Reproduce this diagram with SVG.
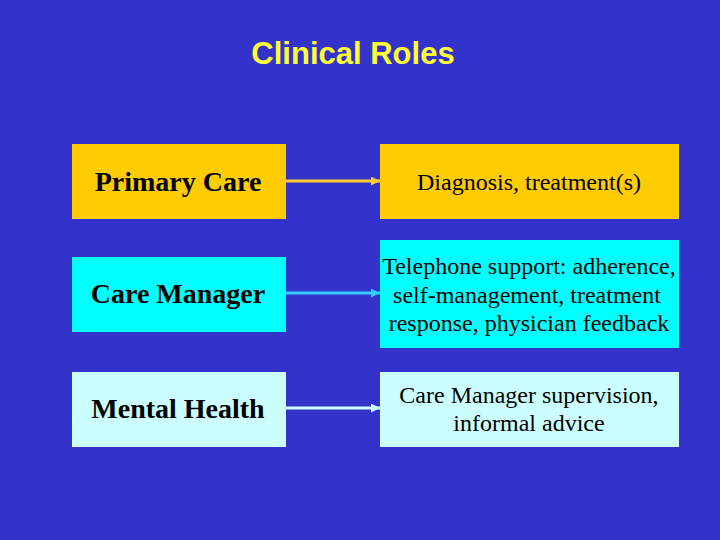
<svg xmlns="http://www.w3.org/2000/svg" width="720" height="540" viewBox="0 0 720 540">
<style>
.t{font-family:"Liberation Serif","Times New Roman",serif;fill:#000;text-anchor:middle}
.l{font-size:28px;font-weight:bold}
.r{font-size:24px}
.title{font-family:"Liberation Sans",Arial,sans-serif;font-weight:bold;font-size:31px;fill:#FFFF33;text-anchor:middle}
</style>
<defs>
<marker id="a1" viewBox="0 0 10 10" refX="10" refY="5" markerWidth="3" markerHeight="3" orient="auto"><path d="M0,0L10,5L0,10z" fill="#FFCC33"/></marker>
<marker id="a2" viewBox="0 0 10 10" refX="10" refY="5" markerWidth="3" markerHeight="3" orient="auto"><path d="M0,0L10,5L0,10z" fill="#33CCFF"/></marker>
<marker id="a3" viewBox="0 0 10 10" refX="10" refY="5" markerWidth="3" markerHeight="3" orient="auto"><path d="M0,0L10,5L0,10z" fill="#CCFFFF"/></marker>
</defs>
<rect width="720" height="540" fill="#3333CC"/>
<text class="title" x="353" y="64">Clinical Roles</text>
<g id="primary-care"><rect x="72" y="144" width="214" height="75" fill="#FFCC00"/><text class="t l" x="178" y="191">Primary Care</text></g>
<g id="diagnosis"><rect x="380" y="144" width="299" height="75" fill="#FFCC00"/><text class="t r" x="529" y="190">Diagnosis, treatment(s)</text></g>
<g id="care-manager"><rect x="72" y="257" width="214" height="75" fill="#00FFFF"/><text class="t l" x="178" y="303">Care Manager</text></g>
<g id="telephone"><rect x="380" y="240" width="299" height="108" fill="#00FFFF"/><text class="t r" x="529" y="274">Telephone support: adherence,</text><text class="t r" x="527" y="303">self-management, treatment</text><text class="t r" x="529" y="331">response, physician feedback</text></g>
<g id="mental-health"><rect x="72" y="372" width="214" height="75" fill="#CCFFFF"/><text class="t l" x="178" y="418">Mental Health</text></g>
<g id="supervision"><rect x="380" y="372" width="299" height="75" fill="#CCFFFF"/><text class="t r" x="529" y="403">Care Manager supervision,</text><text class="t r" x="529" y="431">informal advice</text></g>
<g id="connectors" fill="none" stroke-width="3">
<line x1="286" y1="181" x2="380" y2="181" stroke="#FFCC33" marker-end="url(#a1)"/>
<line x1="286" y1="293" x2="380" y2="293" stroke="#33CCFF" marker-end="url(#a2)"/>
<line x1="286" y1="408" x2="380" y2="408" stroke="#CCFFFF" marker-end="url(#a3)"/>
</g>
</svg>
